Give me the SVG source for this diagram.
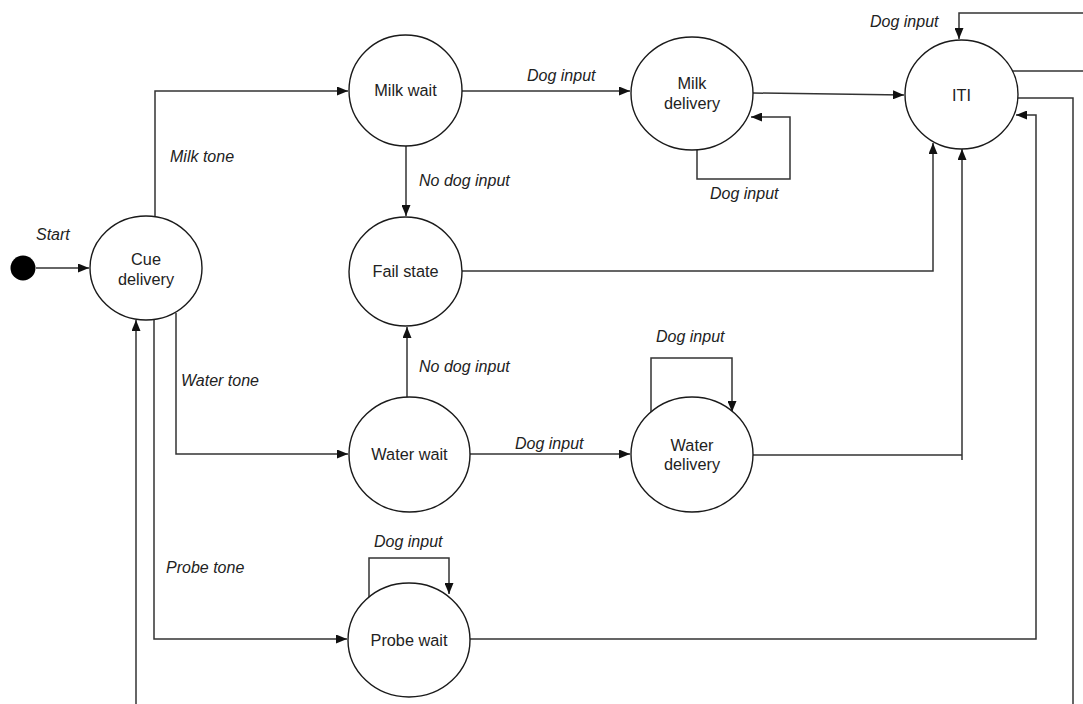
<svg xmlns="http://www.w3.org/2000/svg" width="1083" height="704" viewBox="0 0 1083 704">
<defs>
<marker id="arr" viewBox="0 0 11 9" refX="11" refY="4.5" markerWidth="11" markerHeight="9" markerUnits="userSpaceOnUse" orient="auto">
<path d="M0,0 L11,4.5 L0,9 Z" fill="#111"/>
</marker>
<style>
.node ellipse{fill:#fff;stroke:#1a1a1a;stroke-width:1.4}
.node text{font-family:"Liberation Sans",Arial,sans-serif;font-size:16.3px;fill:#222;text-anchor:middle}
.edges path{fill:none;stroke:#333;stroke-width:1.5}
.lbl{font-family:"Liberation Sans",Arial,sans-serif;font-size:16px;font-style:italic;fill:#222}
</style>
</defs>
<rect width="1083" height="704" fill="#fff"/>

<g class="edges" id="connectors">
<path d="M36,268 L89,268" marker-end="url(#arr)"/>
<path d="M155,216 L155,91 L348,91" marker-end="url(#arr)"/>
<path d="M176,313 L176,454 L348,454" marker-end="url(#arr)"/>
<path d="M154,320 L154,639 L347,639" marker-end="url(#arr)"/>
<path d="M136,704 L136,320" marker-end="url(#arr)"/>
<path d="M462,91 L630,91" marker-end="url(#arr)"/>
<path d="M406,146 L406,216" marker-end="url(#arr)"/>
<path d="M407,397 L407,327" marker-end="url(#arr)"/>
<path d="M470,454 L630,454" marker-end="url(#arr)"/>
<path d="M753,93 L904,95" marker-end="url(#arr)"/>
<path d="M697,150 L697,179 L790,179 L790,117 L751,117" marker-end="url(#arr)"/>
<path d="M462,271 L933,271 L933,143" marker-end="url(#arr)"/>
<path d="M753,455 L962,455 M962,460 L962,149" marker-end="url(#arr)"/>
<path d="M651,413 L651,358 L732,358 L732,412" marker-end="url(#arr)"/>
<path d="M369,597 L369,558 L449,558 L449,594" marker-end="url(#arr)"/>
<path d="M470,639 L1036,639 L1036,115 L1016,115" marker-end="url(#arr)"/>
<path d="M1083,13 L959,13 L959,39" marker-end="url(#arr)"/>
<path d="M1012,71 L1083,71"/>
<path d="M1018,98 L1073,98 L1073,704"/>
</g>

<g id="start">
<circle cx="23" cy="268" r="12.5" fill="#000"/>
</g>
<text class="lbl" x="36" y="240">Start</text>
<text class="lbl" x="170" y="162">Milk tone</text>
<text class="lbl" x="181" y="386">Water tone</text>
<text class="lbl" x="166" y="573">Probe tone</text>
<text class="lbl" x="527" y="81">Dog input</text>
<text class="lbl" x="419" y="186">No dog input</text>
<text class="lbl" x="419" y="372">No dog input</text>
<text class="lbl" x="515" y="449">Dog input</text>
<text class="lbl" x="656" y="342">Dog input</text>
<text class="lbl" x="710" y="199">Dog input</text>
<text class="lbl" x="870" y="27">Dog input</text>
<text class="lbl" x="374" y="547">Dog input</text>

<g class="node" id="cue-delivery">
<ellipse cx="146" cy="268" rx="56" ry="52"/>
<text x="146" y="264.5">Cue</text>
<text x="146" y="284.5">delivery</text>
</g>
<g class="node" id="milk-wait">
<ellipse cx="405.5" cy="90.5" rx="56.5" ry="55.5"/>
<text x="405.5" y="96">Milk wait</text>
</g>
<g class="node" id="fail-state">
<ellipse cx="405.5" cy="271.5" rx="56.5" ry="54.5"/>
<text x="405.5" y="277">Fail state</text>
</g>
<g class="node" id="water-wait">
<ellipse cx="409.5" cy="454.5" rx="60.5" ry="57.5"/>
<text x="409.5" y="460">Water wait</text>
</g>
<g class="node" id="probe-wait">
<ellipse cx="409" cy="640" rx="61" ry="57"/>
<text x="409" y="645.5">Probe wait</text>
</g>
<g class="node" id="milk-delivery">
<ellipse cx="692" cy="93.5" rx="61" ry="56.5"/>
<text x="692" y="88.5">Milk</text>
<text x="692" y="108.5">delivery</text>
</g>
<g class="node" id="water-delivery">
<ellipse cx="692" cy="454.5" rx="61" ry="57.5"/>
<text x="692" y="450.5">Water</text>
<text x="692" y="469.5">delivery</text>
</g>
<g class="node" id="iti">
<ellipse cx="961.5" cy="94.5" rx="56.5" ry="54.5"/>
<text x="961.5" y="100.5">ITI</text>
</g>
</svg>
